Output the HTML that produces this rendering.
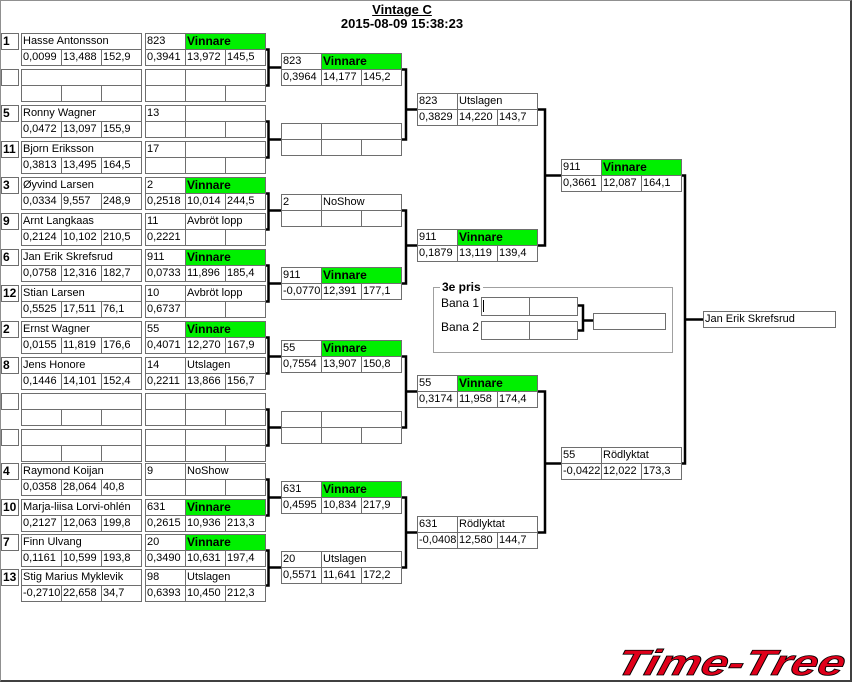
<!DOCTYPE html>
<html><head><meta charset="utf-8"><style>
*{margin:0;padding:0}
body{width:854px;height:684px;position:relative;background:#fff;overflow:hidden;font-family:"Liberation Sans",Arial,sans-serif}
#frame{position:absolute;left:0;top:0;width:852px;height:682px;box-sizing:border-box;border-left:1px solid #909090;border-top:1px solid #909090;border-right:2px solid #404040;border-bottom:2px solid #404040}
.b{position:absolute;border-left:1px solid #6e6e6e;border-top:1px solid #6e6e6e;background:#fff}
.r{display:flex;height:16px}
.b i{font-style:normal;box-sizing:border-box;width:40px;height:16px;border-right:1px solid #6e6e6e;border-bottom:1px solid #6e6e6e;font-size:11px;line-height:15px;padding-left:1px;white-space:nowrap;overflow:hidden;color:#000}
.b i.w80{width:80px}.b i.w120{width:120px}.b i.s{width:17px;font-weight:bold;font-size:12px}
.b i.g{background:#00f000;font-weight:bold;font-size:12px}
.t{position:absolute;font-weight:bold;font-size:13px;text-align:center;width:854px;left:-25px}
svg{position:absolute;left:0;top:0}
</style></head><body>
<div id="frame"></div>
<div class="t" style="top:2px;text-decoration:underline">Vintage C</div>
<div class="t" style="top:16px">2015-08-09 15:38:23</div>

<!-- seeds -->
<div class="b" style="left:1px;top:33px"><div class="r"><i class="s">1</i></div></div>
<div class="b" style="left:1px;top:69px"><div class="r"><i class="s"></i></div></div>
<div class="b" style="left:1px;top:105px"><div class="r"><i class="s">5</i></div></div>
<div class="b" style="left:1px;top:141px"><div class="r"><i class="s">11</i></div></div>
<div class="b" style="left:1px;top:177px"><div class="r"><i class="s">3</i></div></div>
<div class="b" style="left:1px;top:213px"><div class="r"><i class="s">9</i></div></div>
<div class="b" style="left:1px;top:249px"><div class="r"><i class="s">6</i></div></div>
<div class="b" style="left:1px;top:285px"><div class="r"><i class="s">12</i></div></div>
<div class="b" style="left:1px;top:321px"><div class="r"><i class="s">2</i></div></div>
<div class="b" style="left:1px;top:357px"><div class="r"><i class="s">8</i></div></div>
<div class="b" style="left:1px;top:393px"><div class="r"><i class="s"></i></div></div>
<div class="b" style="left:1px;top:429px"><div class="r"><i class="s"></i></div></div>
<div class="b" style="left:1px;top:463px"><div class="r"><i class="s">4</i></div></div>
<div class="b" style="left:1px;top:499px"><div class="r"><i class="s">10</i></div></div>
<div class="b" style="left:1px;top:534px"><div class="r"><i class="s">7</i></div></div>
<div class="b" style="left:1px;top:569px"><div class="r"><i class="s">13</i></div></div>

<!-- names -->
<div class="b" style="left:21px;top:33px"><div class="r"><i class="w120">Hasse Antonsson</i></div><div class="r"><i>0,0099</i><i>13,488</i><i>152,9</i></div></div>
<div class="b" style="left:21px;top:69px"><div class="r"><i class="w120"></i></div><div class="r"><i></i><i></i><i></i></div></div>
<div class="b" style="left:21px;top:105px"><div class="r"><i class="w120">Ronny Wagner</i></div><div class="r"><i>0,0472</i><i>13,097</i><i>155,9</i></div></div>
<div class="b" style="left:21px;top:141px"><div class="r"><i class="w120">Bjorn Eriksson</i></div><div class="r"><i>0,3813</i><i>13,495</i><i>164,5</i></div></div>
<div class="b" style="left:21px;top:177px"><div class="r"><i class="w120">Øyvind Larsen</i></div><div class="r"><i>0,0334</i><i>9,557</i><i>248,9</i></div></div>
<div class="b" style="left:21px;top:213px"><div class="r"><i class="w120">Arnt Langkaas</i></div><div class="r"><i>0,2124</i><i>10,102</i><i>210,5</i></div></div>
<div class="b" style="left:21px;top:249px"><div class="r"><i class="w120">Jan Erik Skrefsrud</i></div><div class="r"><i>0,0758</i><i>12,316</i><i>182,7</i></div></div>
<div class="b" style="left:21px;top:285px"><div class="r"><i class="w120">Stian Larsen</i></div><div class="r"><i>0,5525</i><i>17,511</i><i>76,1</i></div></div>
<div class="b" style="left:21px;top:321px"><div class="r"><i class="w120">Ernst Wagner</i></div><div class="r"><i>0,0155</i><i>11,819</i><i>176,6</i></div></div>
<div class="b" style="left:21px;top:357px"><div class="r"><i class="w120">Jens Honore</i></div><div class="r"><i>0,1446</i><i>14,101</i><i>152,4</i></div></div>
<div class="b" style="left:21px;top:393px"><div class="r"><i class="w120"></i></div><div class="r"><i></i><i></i><i></i></div></div>
<div class="b" style="left:21px;top:429px"><div class="r"><i class="w120"></i></div><div class="r"><i></i><i></i><i></i></div></div>
<div class="b" style="left:21px;top:463px"><div class="r"><i class="w120">Raymond Koijan</i></div><div class="r"><i>0,0358</i><i>28,064</i><i>40,8</i></div></div>
<div class="b" style="left:21px;top:499px"><div class="r"><i class="w120">Marja-liisa Lorvi-ohlén</i></div><div class="r"><i>0,2127</i><i>12,063</i><i>199,8</i></div></div>
<div class="b" style="left:21px;top:534px"><div class="r"><i class="w120">Finn Ulvang</i></div><div class="r"><i>0,1161</i><i>10,599</i><i>193,8</i></div></div>
<div class="b" style="left:21px;top:569px"><div class="r"><i class="w120">Stig Marius Myklevik</i></div><div class="r"><i>-0,2710</i><i>22,658</i><i>34,7</i></div></div>

<!-- round 1 results -->
<div class="b" style="left:145px;top:33px"><div class="r"><i>823</i><i class="w80 g">Vinnare</i></div><div class="r"><i>0,3941</i><i>13,972</i><i>145,5</i></div></div>
<div class="b" style="left:145px;top:69px"><div class="r"><i></i><i class="w80"></i></div><div class="r"><i></i><i></i><i></i></div></div>
<div class="b" style="left:145px;top:105px"><div class="r"><i>13</i><i class="w80"></i></div><div class="r"><i></i><i></i><i></i></div></div>
<div class="b" style="left:145px;top:141px"><div class="r"><i>17</i><i class="w80"></i></div><div class="r"><i></i><i></i><i></i></div></div>
<div class="b" style="left:145px;top:177px"><div class="r"><i>2</i><i class="w80 g">Vinnare</i></div><div class="r"><i>0,2518</i><i>10,014</i><i>244,5</i></div></div>
<div class="b" style="left:145px;top:213px"><div class="r"><i>11</i><i class="w80">Avbröt lopp</i></div><div class="r"><i>0,2221</i><i></i><i></i></div></div>
<div class="b" style="left:145px;top:249px"><div class="r"><i>911</i><i class="w80 g">Vinnare</i></div><div class="r"><i>0,0733</i><i>11,896</i><i>185,4</i></div></div>
<div class="b" style="left:145px;top:285px"><div class="r"><i>10</i><i class="w80">Avbröt lopp</i></div><div class="r"><i>0,6737</i><i></i><i></i></div></div>
<div class="b" style="left:145px;top:321px"><div class="r"><i>55</i><i class="w80 g">Vinnare</i></div><div class="r"><i>0,4071</i><i>12,270</i><i>167,9</i></div></div>
<div class="b" style="left:145px;top:357px"><div class="r"><i>14</i><i class="w80">Utslagen</i></div><div class="r"><i>0,2211</i><i>13,866</i><i>156,7</i></div></div>
<div class="b" style="left:145px;top:393px"><div class="r"><i></i><i class="w80"></i></div><div class="r"><i></i><i></i><i></i></div></div>
<div class="b" style="left:145px;top:429px"><div class="r"><i></i><i class="w80"></i></div><div class="r"><i></i><i></i><i></i></div></div>
<div class="b" style="left:145px;top:463px"><div class="r"><i>9</i><i class="w80">NoShow</i></div><div class="r"><i></i><i></i><i></i></div></div>
<div class="b" style="left:145px;top:499px"><div class="r"><i>631</i><i class="w80 g">Vinnare</i></div><div class="r"><i>0,2615</i><i>10,936</i><i>213,3</i></div></div>
<div class="b" style="left:145px;top:534px"><div class="r"><i>20</i><i class="w80 g">Vinnare</i></div><div class="r"><i>0,3490</i><i>10,631</i><i>197,4</i></div></div>
<div class="b" style="left:145px;top:569px"><div class="r"><i>98</i><i class="w80">Utslagen</i></div><div class="r"><i>0,6393</i><i>10,450</i><i>212,3</i></div></div>

<!-- round 2 -->
<div class="b" style="left:281px;top:53px"><div class="r"><i>823</i><i class="w80 g">Vinnare</i></div><div class="r"><i>0,3964</i><i>14,177</i><i>145,2</i></div></div>
<div class="b" style="left:281px;top:123px"><div class="r"><i></i><i class="w80"></i></div><div class="r"><i></i><i></i><i></i></div></div>
<div class="b" style="left:281px;top:194px"><div class="r"><i>2</i><i class="w80">NoShow</i></div><div class="r"><i></i><i></i><i></i></div></div>
<div class="b" style="left:281px;top:267px"><div class="r"><i>911</i><i class="w80 g">Vinnare</i></div><div class="r"><i>-0,0770</i><i>12,391</i><i>177,1</i></div></div>
<div class="b" style="left:281px;top:340px"><div class="r"><i>55</i><i class="w80 g">Vinnare</i></div><div class="r"><i>0,7554</i><i>13,907</i><i>150,8</i></div></div>
<div class="b" style="left:281px;top:411px"><div class="r"><i></i><i class="w80"></i></div><div class="r"><i></i><i></i><i></i></div></div>
<div class="b" style="left:281px;top:481px"><div class="r"><i>631</i><i class="w80 g">Vinnare</i></div><div class="r"><i>0,4595</i><i>10,834</i><i>217,9</i></div></div>
<div class="b" style="left:281px;top:551px"><div class="r"><i>20</i><i class="w80">Utslagen</i></div><div class="r"><i>0,5571</i><i>11,641</i><i>172,2</i></div></div>

<!-- round 3 -->
<div class="b" style="left:417px;top:93px"><div class="r"><i>823</i><i class="w80">Utslagen</i></div><div class="r"><i>0,3829</i><i>14,220</i><i>143,7</i></div></div>
<div class="b" style="left:417px;top:229px"><div class="r"><i>911</i><i class="w80 g">Vinnare</i></div><div class="r"><i>0,1879</i><i>13,119</i><i>139,4</i></div></div>
<div class="b" style="left:417px;top:375px"><div class="r"><i>55</i><i class="w80 g">Vinnare</i></div><div class="r"><i>0,3174</i><i>11,958</i><i>174,4</i></div></div>
<div class="b" style="left:417px;top:516px"><div class="r"><i>631</i><i class="w80">Rödlyktat</i></div><div class="r"><i>-0,0408</i><i>12,580</i><i>144,7</i></div></div>

<!-- round 4 -->
<div class="b" style="left:561px;top:159px"><div class="r"><i>911</i><i class="w80 g">Vinnare</i></div><div class="r"><i>0,3661</i><i>12,087</i><i>164,1</i></div></div>
<div class="b" style="left:561px;top:447px"><div class="r"><i>55</i><i class="w80">Rödlyktat</i></div><div class="r"><i>-0,0422</i><i>12,022</i><i>173,3</i></div></div>

<!-- final -->
<div class="b" style="left:703px;top:311px"><div class="r"><i class="w120" style="width:132px">Jan Erik Skrefsrud</i></div></div>

<!-- 3e pris -->
<div style="position:absolute;left:433px;top:287px;width:238px;height:64px;border:1px solid #a0a0a0"></div>
<div style="position:absolute;left:440px;top:280px;background:#fff;padding:0 2px;font-weight:bold;font-size:12px">3e pris</div>
<div style="position:absolute;left:441px;top:296px;font-size:12px">Bana 1</div>
<div style="position:absolute;left:441px;top:320px;font-size:12px">Bana 2</div>
<div class="b" style="left:481px;top:297px;border-color:#6e6e6e"><div class="r" style="height:18px"><i style="width:48px;height:18px"></i><i style="width:48px;height:18px"></i></div></div>
<div style="position:absolute;left:483px;top:300px;width:1px;height:12px;background:#000"></div>
<div class="b" style="left:481px;top:321px"><div class="r" style="height:18px"><i style="width:48px;height:18px"></i><i style="width:48px;height:18px"></i></div></div>
<div class="b" style="left:593px;top:313px"><div class="r"><i style="width:72px"></i></div></div>

<svg width="854" height="684" style="pointer-events:none">
<g fill="none" stroke="#000" stroke-width="2.5">
<path d="M266 49.5H268.5V85.5H266M268.5 67.5H281"/>
<path d="M266 121.5H268.5V157.5H266M268.5 139.5H281"/>
<path d="M266 193.5H268.5V229.5H266M268.5 210.5H281"/>
<path d="M266 265.5H268.5V301.5H266M268.5 283.5H281"/>
<path d="M266 337.5H268.5V373.5H266M268.5 356.5H281"/>
<path d="M266 409.5H268.5V445.5H266M268.5 427.5H281"/>
<path d="M266 479.5H268.5V515.5H266M268.5 497.5H281"/>
<path d="M266 550.5H268.5V585.5H266M268.5 567.5H281"/>
<path d="M402 69.5H406V139.5H402M406 109.5H417"/>
<path d="M402 210.5H406V283.5H402M406 245.5H417"/>
<path d="M402 356.5H406V427.5H402M406 391.5H417"/>
<path d="M402 497.5H406V567.5H402M406 532.5H417"/>
<path d="M538 109.5H545V245.5H538M545 175.5H561"/>
<path d="M538 391.5H545V532.5H538M545 463.5H561"/>
<path d="M682 175.5H685V463.5H682M685 319.5H703"/>
<path d="M578 305.5H583V330.5H578M583 320.5H593"/>
</g>
<text x="845" y="675" text-anchor="end" font-family="Liberation Sans, sans-serif" font-weight="bold" font-style="italic" font-size="36" fill="#e0001a" stroke="#000" stroke-width="0.8" transform="skewX(-15) translate(178,0)" textLength="228" lengthAdjust="spacingAndGlyphs">Time-Tree</text>
</svg>
</body></html>
